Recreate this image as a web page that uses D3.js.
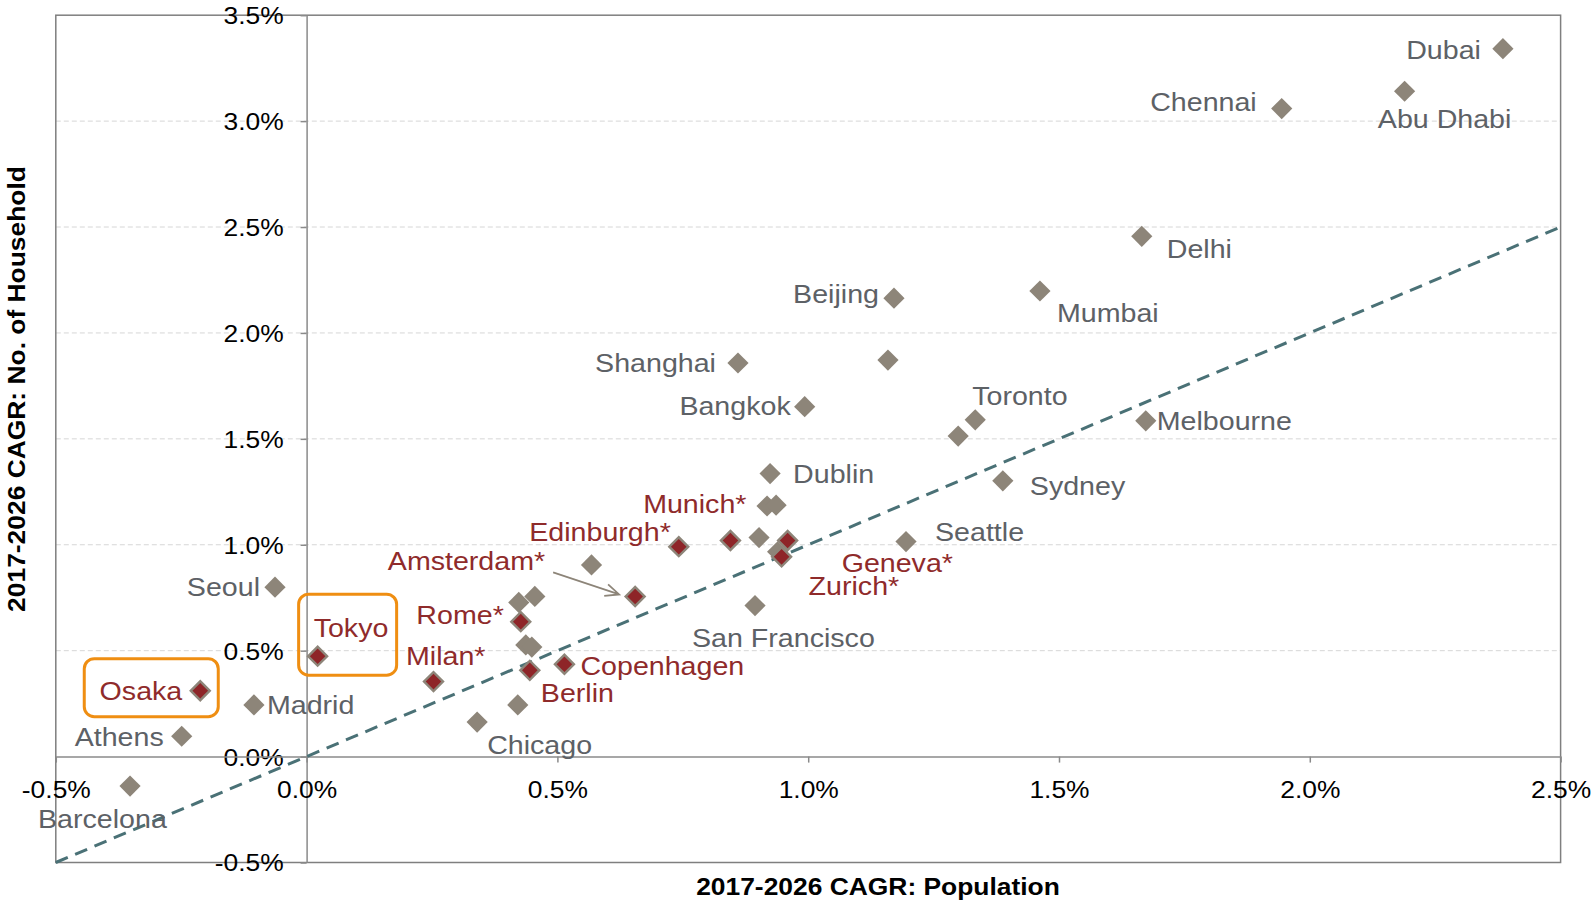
<!DOCTYPE html>
<html>
<head>
<meta charset="utf-8">
<script src="https://cdn.jsdelivr.net/npm/d3@7/dist/d3.min.js"></script>
<style>
  html, body { margin: 0; padding: 0; background: #fff; }
  svg { display: block; font-family: "Liberation Sans", Arial, sans-serif; }
</style>
</head>
<body>
<svg id="chart" width="1591" height="900"></svg>
<script>
// ---- Data: 2017-2026 CAGR (%) of population (x) and number of households (y) ----
const otherCities = ["Dubai", "Abu Dhabi", "Chennai", "Delhi", "Mumbai", "Beijing", "", "Shanghai",
  "Bangkok", "Toronto", "", "Melbourne", "Sydney", "Seattle", "Dublin", "", "", "", "",
  "San Francisco", "", "", "", "", "", "", "Chicago", "Seoul", "Madrid", "Athens", "Barcelona"];
const otherPop = [2.385, 2.189, 1.944, 1.665, 1.462, 1.171, 1.159, 0.860,
  0.993, 1.333, 1.299, 1.673, 1.388, 1.195, 0.924, 0.918, 0.936, 0.902, 0.939,
  0.894, 0.568, 0.423, 0.455, 0.437, 0.449, 0.421, 0.340, -0.063, -0.105, -0.249, -0.352];
const otherHH = [3.342, 3.141, 3.059, 2.456, 2.198, 2.164, 1.872, 1.858,
  1.652, 1.590, 1.513, 1.585, 1.302, 1.015, 1.336, 1.183, 1.187, 1.034, 0.967,
  0.713, 0.905, 0.728, 0.756, 0.527, 0.517, 0.244, 0.163, 0.800, 0.244, 0.096, -0.139];

const focusCities = ["Munich*", "Geneva*", "Zurich*", "Edinburgh*", "Amsterdam*", "Rome*",
  "Milan*", "Berlin", "Copenhagen", "Tokyo", "Osaka"];
const focusPop = [0.845, 0.959, 0.947, 0.742, 0.655, 0.427, 0.253, 0.445, 0.514, 0.022, -0.212];
const focusHH = [1.020, 1.020, 0.943, 0.991, 0.756, 0.637, 0.354, 0.407, 0.436, 0.474, 0.311];

const xTicks = [-0.5, 0.0, 0.5, 1.0, 1.5, 2.0, 2.5];
const yTicks = [-0.5, 0.0, 0.5, 1.0, 1.5, 2.0, 2.5, 3.0, 3.5];
const parityLine = [[-0.5, -0.5], [2.5, 2.5]];
const highlighted = ["Osaka", "Tokyo"];

const xTitle = "2017-2026 CAGR: Population";
const yTitle = "2017-2026 CAGR: No. of Household";

// ---- Label placement: [dx, dy, anchor] in pixels from the marker ----
const labelPlacement = {
  "Dubai": [-22, 1, "end"], "Chennai": [-25, -7, "end"], "Abu Dhabi": [40, 28, "middle"],
  "Delhi": [25, 13, "start"], "Mumbai": [17, 22, "start"], "Beijing": [-15, -4, "end"],
  "Shanghai": [-22, 0, "end"], "Bangkok": [-14, -1, "end"], "Toronto": [-3, -24, "start"],
  "Melbourne": [11, 0, "start"], "Sydney": [27, 5, "start"], "Seattle": [29, -10, "start"],
  "Dublin": [23, 0, "start"], "San Francisco": [-63, 32, "start"], "Chicago": [10, 23, "start"],
  "Seoul": [-15, 0, "end"], "Madrid": [13, 0, "start"], "Athens": [-18, 1, "end"],
  "Barcelona": [-92, 33, "start"],
  "Munich*": [16, -37, "end"], "Geneva*": [54, 22, "start"], "Zurich*": [27, 29, "start"],
  "Edinburgh*": [-8, -15, "end"], "Amsterdam*": [-90, -35, "end"], "Rome*": [-17, -7, "end"],
  "Milan*": [52, -26, "end"], "Berlin": [11, 23, "start"], "Copenhagen": [16, 2, "start"],
  "Tokyo": [-4, -28, "start"], "Osaka": [-18, 0, "end"]
};
// highlight frames around a marker: [left, top, right, bottom] offsets
const framePlacement = { "Osaka": [-116, -32, 18, 26], "Tokyo": [-19, -62, 79, 19] };

// ---- Styles ----
const GREY_MARK = "#8d8579", RED_MARK = "#8e2528";
const GREY_TEXT = "#5d6166", RED_TEXT = "#8f2b2b";
const AXIS = "#8a8a8a", GRID = "#d6d6d6", PARITY = "#4a7176", FRAME = "#ef8e12";
const SX = 1.1; // glyph width factor

const svg = d3.select("#chart");
const plot = { left: 55.8, right: 1560.6, top: 15.2, bottom: 862.5 };

const x = d3.scaleLinear().domain([-0.5, 2.5]).range([plot.left, plot.right]);
const y = d3.scaleLinear().domain([-0.5, 3.5]).range([plot.bottom, plot.top]);
const locale = d3.formatLocale({ decimal: ".", thousands: ",", grouping: [3], currency: ["", ""], minus: "-" });
const pct = d => locale.format(".1f")(d) + "%";

function addText(g, px, py, str, opt) {
  return g.append("text")
    .attr("transform", `translate(${px},${py})${opt.rotate ? ` rotate(${opt.rotate})` : ""} scale(${SX},1)`)
    .attr("text-anchor", opt.anchor || "start")
    .attr("dominant-baseline", "central")
    .attr("fill", opt.fill || "#000")
    .style("font-size", opt.size + "px")
    .style("font-weight", opt.weight || "normal")
    .text(str);
}

// gridlines
svg.append("g").selectAll("line")
  .data(yTicks.filter(v => v > 0 && v < 3.5))
  .join("line")
  .attr("x1", plot.left).attr("x2", plot.right)
  .attr("y1", d => y(d)).attr("y2", d => y(d))
  .attr("stroke", GRID).attr("stroke-width", 1).attr("stroke-dasharray", "5,3");

// plot frame
svg.append("rect")
  .attr("x", plot.left).attr("y", plot.top)
  .attr("width", plot.right - plot.left).attr("height", plot.bottom - plot.top)
  .attr("fill", "none").attr("stroke", "#7f7f7f").attr("stroke-width", 1.5);

// y axis through x = 0
const yAxisG = svg.append("g").attr("transform", `translate(${x(0)},0)`)
  .call(d3.axisLeft(y).tickValues(yTicks).tickFormat(pct).tickSize(6).tickSizeOuter(0));
// x axis through y = 0
const xAxisG = svg.append("g").attr("transform", `translate(0,${y(0)})`)
  .call(d3.axisBottom(x).tickValues(xTicks).tickFormat(pct).tickSize(6).tickSizeOuter(0));

[yAxisG, xAxisG].forEach(g => {
  g.select(".domain").attr("stroke", AXIS).attr("stroke-width", 1.5);
  g.selectAll(".tick line").attr("stroke", AXIS).attr("stroke-width", 1.5);
  g.selectAll(".tick text")
    .attr("fill", "#000")
    .style("font-family", "'Liberation Sans', Arial, sans-serif")
    .style("font-size", "24px");
});
yAxisG.selectAll(".tick text")
  .attr("x", -23 / SX).attr("dy", "0.35em")
  .attr("transform", `scale(${SX},1)`);
xAxisG.selectAll(".tick text")
  .attr("y", 33).attr("dy", "0.35em")
  .attr("transform", `scale(${SX},1)`);

// axis titles
addText(svg, 878, 886, xTitle, { size: 24, weight: "bold", anchor: "middle" });
addText(svg, 16, 389, yTitle, { size: 24, weight: "bold", anchor: "middle", rotate: -90 });

// markers
const others = otherCities.map((c, i) => ({ city: c, px: otherPop[i], hh: otherHH[i] }));
const focus = focusCities.map((c, i) => ({ city: c, px: focusPop[i], hh: focusHH[i] }));

svg.append("g").selectAll("path")
  .data(others).join("path")
  .attr("d", d3.symbol().type(d3.symbolSquare).size(225))
  .attr("transform", d => `translate(${x(d.px)},${y(d.hh)}) rotate(45)`)
  .attr("fill", GREY_MARK);

// household growth = population growth
svg.append("line")
  .attr("x1", x(parityLine[0][0])).attr("y1", y(parityLine[0][1]))
  .attr("x2", x(parityLine[1][0])).attr("y2", y(parityLine[1][1]))
  .attr("stroke", PARITY).attr("stroke-width", 3).attr("stroke-dasharray", "13,8");

svg.append("g").selectAll("path")
  .data(focus).join("path")
  .attr("d", d3.symbol().type(d3.symbolSquare).size(180))
  .attr("transform", d => `translate(${x(d.px)},${y(d.hh)}) rotate(45)`)
  .attr("fill", RED_MARK).attr("stroke", GREY_MARK).attr("stroke-width", 2.4);

// labels
const labelG = svg.append("g");
others.filter(d => d.city).forEach(d => {
  const [dx, dy, anchor] = labelPlacement[d.city];
  addText(labelG, x(d.px) + dx, y(d.hh) + dy, d.city, { size: 26, fill: GREY_TEXT, anchor });
});
focus.forEach(d => {
  const [dx, dy, anchor] = labelPlacement[d.city];
  addText(labelG, x(d.px) + dx, y(d.hh) + dy, d.city, { size: 26, fill: RED_TEXT, anchor });
});

// arrow pointing from the Amsterdam label to its marker
const ams = focus.find(d => d.city === "Amsterdam*");
const a0 = [x(ams.px) - 82, y(ams.hh) - 24], a1 = [x(ams.px) - 16, y(ams.hh) - 2];
const ang = Math.atan2(a1[1] - a0[1], a1[0] - a0[0]);
const head = 15, spread = 0.42;
svg.append("path")
  .attr("d", `M${a0[0]},${a0[1]}L${a1[0]},${a1[1]}` +
    `M${a1[0] - head * Math.cos(ang - spread)},${a1[1] - head * Math.sin(ang - spread)}` +
    `L${a1[0]},${a1[1]}` +
    `L${a1[0] - head * Math.cos(ang + spread)},${a1[1] - head * Math.sin(ang + spread)}`)
  .attr("fill", "none").attr("stroke", GREY_MARK).attr("stroke-width", 1.8);

// highlight frames
highlighted.forEach(c => {
  const d = focus.find(f => f.city === c);
  const [l, t, r, b] = framePlacement[c];
  svg.append("rect")
    .attr("x", x(d.px) + l).attr("y", y(d.hh) + t)
    .attr("width", r - l).attr("height", b - t)
    .attr("rx", 10).attr("ry", 10)
    .attr("fill", "none").attr("stroke", FRAME).attr("stroke-width", 3);
});
</script>
</body>
</html>
